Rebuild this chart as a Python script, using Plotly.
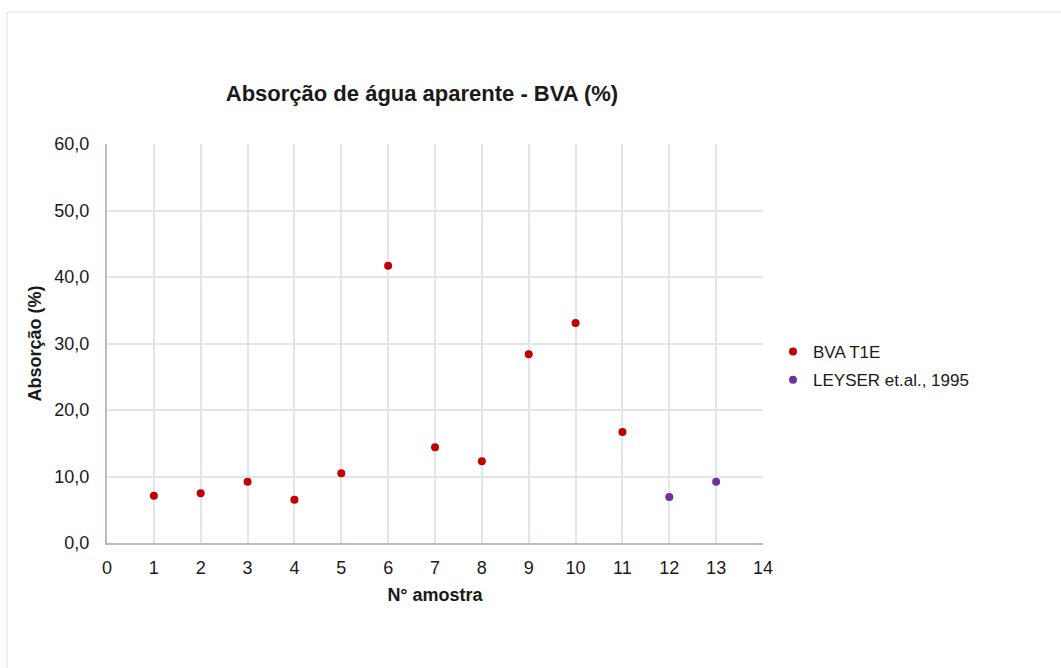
import plotly.graph_objects as go

# Sample numbers and apparent water absorption (%)
amostras_bva = [1, 2, 3, 4, 5, 6, 7, 8, 9, 10, 11]
absorcao_bva = [7.1, 7.5, 9.2, 6.5, 10.5, 41.7, 14.4, 12.3, 28.4, 33.1, 16.7]

amostras_leyser = [12, 13]
absorcao_leyser = [6.9, 9.2]

x_ticks = list(range(0, 15))
y_ticks = [0, 10, 20, 30, 40, 50, 60]

FONT = "Liberation Sans, Arial, sans-serif"
TEXT = "#1a1a1a"

fig = go.Figure()
fig.add_trace(go.Scatter(
    x=amostras_bva, y=absorcao_bva, mode="markers", name="BVA T1E",
    legendgroup="a", marker=dict(color="#c00000", size=8),
))
fig.add_trace(go.Scatter(
    x=amostras_leyser, y=absorcao_leyser, mode="markers", name="LEYSER et.al., 1995",
    legendgroup="b", marker=dict(color="#7030a0", size=8),
))

fig.update_layout(
    width=1061, height=668,
    margin=dict(l=107, r=298, t=144, b=125),
    paper_bgcolor="white", plot_bgcolor="white",
    separators=",.",
    font=dict(family=FONT, size=18, color=TEXT),
    title=dict(
        text="<b>Absorção de água aparente - BVA (%)</b>",
        x=422 / 1061, xanchor="center", xref="container",
        y=1 - 93 / 668, yanchor="middle", yref="container",
        font=dict(family=FONT, size=22, color=TEXT),
    ),
    showlegend=True,
    legend=dict(
        x=(773 - 107) / 656, y=(543 - 366) / 399, xanchor="left", yanchor="middle",
        font=dict(family=FONT, size=17, color=TEXT),
        itemwidth=30, tracegroupgap=3, traceorder="grouped",
        bgcolor="rgba(0,0,0,0)",
    ),
    shapes=[dict(
        type="rect", xref="paper", yref="paper",
        x0=-100 / 656, x1=1.6, y0=-0.6, y1=1 + 132 / 399,
        line=dict(color="#dcdfe4", width=1), layer="below",
    )],
)

fig.update_xaxes(
    range=[0, 14], tickvals=x_ticks, ticktext=[str(v) for v in x_ticks],
    showgrid=True, gridcolor="#e1e5ec", gridwidth=1.5,
    showline=True, linecolor="#b4bdcc", linewidth=2,
    zeroline=False, ticks="", ticklabelstandoff=7,
    title=dict(text="<b>N° amostra</b>", font=dict(family=FONT, size=18, color=TEXT), standoff=12),
)
fig.update_yaxes(
    range=[0, 60], tickvals=y_ticks, tickformat=".1f",
    showgrid=True, gridcolor="#e1e5ec", gridwidth=1.5,
    showline=True, linecolor="#b4bdcc", linewidth=2,
    zeroline=False, ticks="", ticklabelstandoff=12,
    title=dict(text="<b>Absorção (%)</b>", font=dict(family=FONT, size=18, color=TEXT), standoff=8),
)

fig.write_html("out.html")
